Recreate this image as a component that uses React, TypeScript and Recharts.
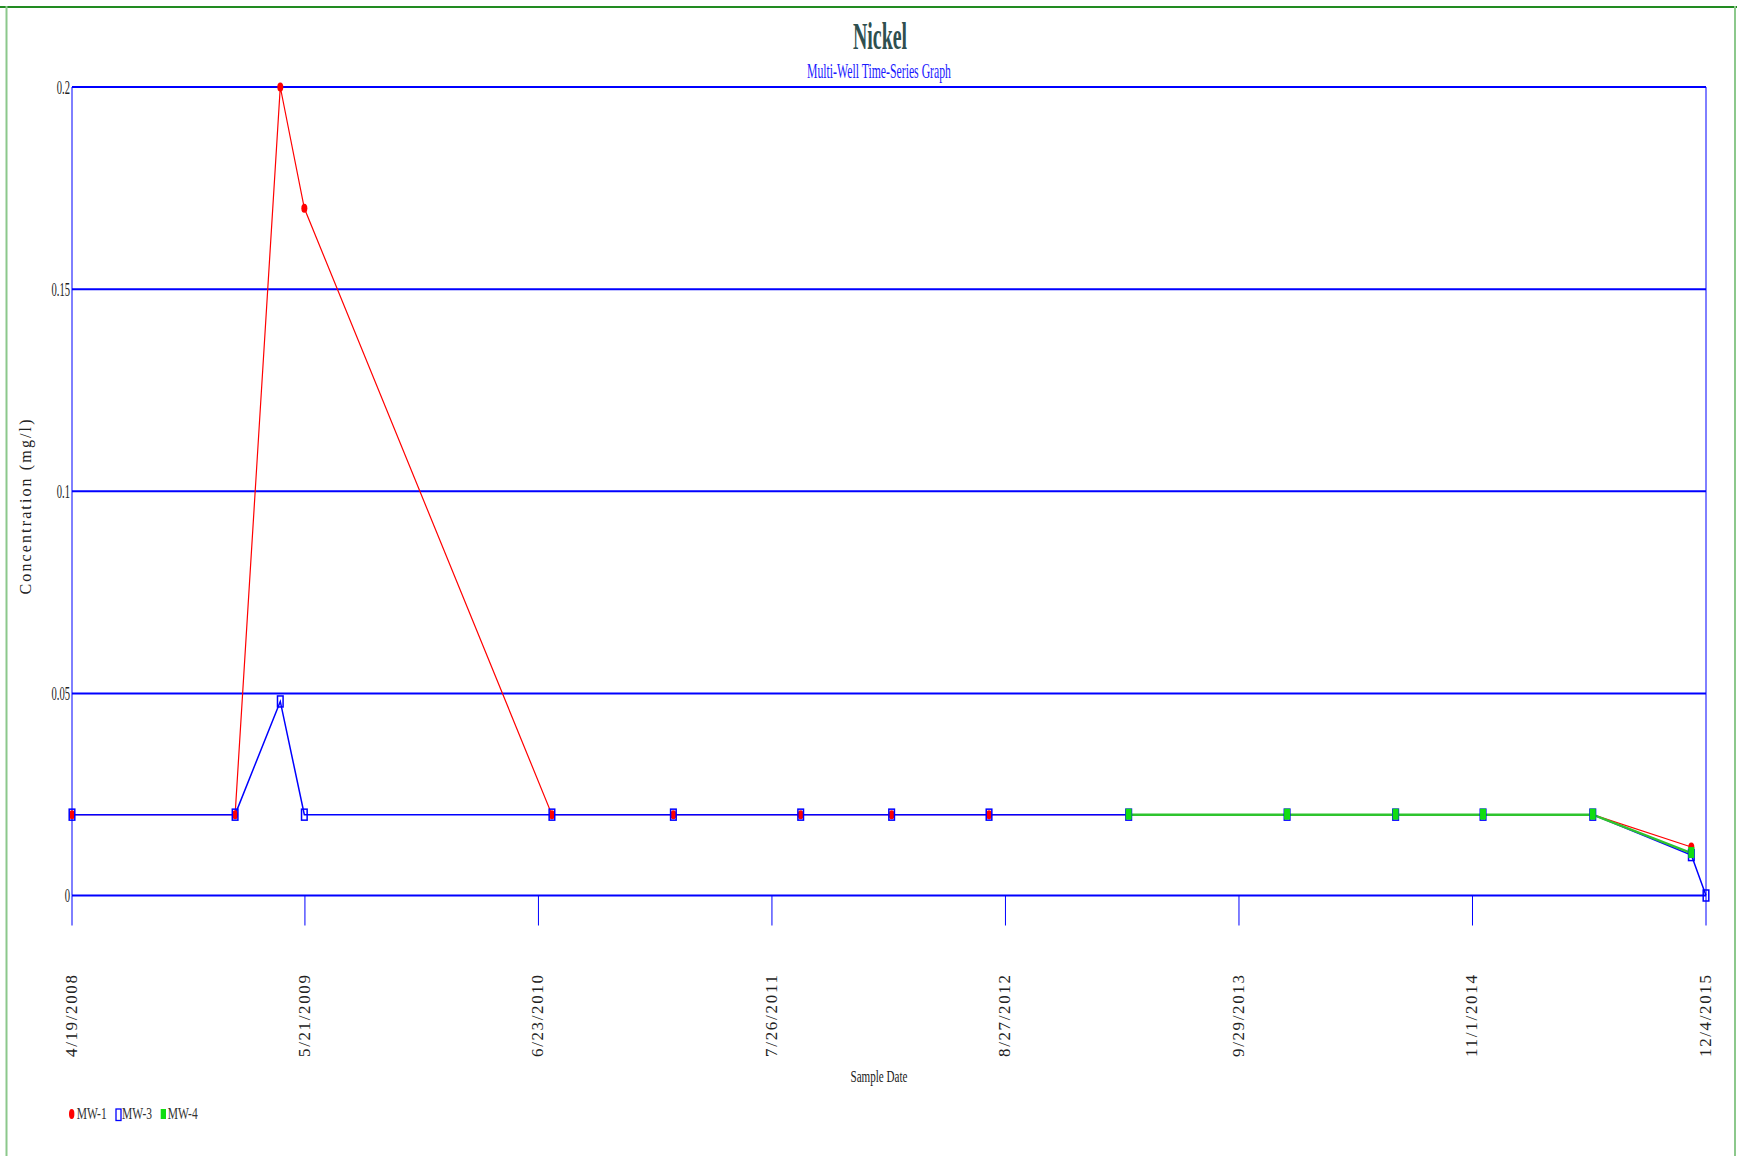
import React from 'react';
import { LineChart, Line, XAxis, YAxis, CartesianGrid, ReferenceLine } from 'recharts';

const sampleDates = [
  '2008-04-19', '2009-01-22', '2009-04-09', '2009-05-20', '2010-07-16', '2011-02-08',
  '2011-09-13', '2012-02-15', '2012-07-30', '2013-03-25', '2013-12-20', '2014-06-23',
  '2014-11-19', '2015-05-25', '2015-11-09', '2015-12-04',
];
const mw1 = [0.02, 0.02, 0.2, 0.17, 0.02, 0.02, 0.02, 0.02, 0.02, 0.02, 0.02, 0.02, 0.02, 0.02, 0.012, null];
const mw3 = [0.02, 0.02, 0.048, 0.02, 0.02, 0.02, 0.02, 0.02, 0.02, 0.02, 0.02, 0.02, 0.02, 0.02, 0.01, 0];
const mw4 = [null, null, null, null, null, null, null, null, null, 0.02, 0.02, 0.02, 0.02, 0.02, 0.0105, null];

const xTickDates = ['2008-04-19', '2009-05-21', '2010-06-23', '2011-07-26', '2012-08-27', '2013-09-29', '2014-11-01', '2015-12-04'];
const xTickLabels = ['4/19/2008', '5/21/2009', '6/23/2010', '7/26/2011', '8/27/2012', '9/29/2013', '11/1/2014', '12/4/2015'];
const yTicks = [0, 0.05, 0.1, 0.15, 0.2];
const yTickLabels = ['0', '0.05', '0.1', '0.15', '0.2'];

const seriesNames = ['MW-1', 'MW-3', 'MW-4'];
const title = 'Nickel';
const subtitle = 'Multi-Well Time-Series Graph';
const yLabel = 'Concentration (mg/l)';
const xLabel = 'Sample Date';

const toTs = (s: string) => {
  const [y, m, d] = s.split('-').map(Number);
  return Date.UTC(y, m - 1, d);
};

const data = sampleDates.map((d, i) => ({
  t: toTs(d),
  mw1: mw1[i] == null ? undefined : mw1[i],
  mw3: mw3[i] == null ? undefined : mw3[i],
  mw4: mw4[i] == null ? undefined : mw4[i],
}));

const xTicks = xTickDates.map(toTs);
const FONT = '"Liberation Serif", "Times New Roman", serif';
const BLUE = '#0000ff';
const RED = '#ff0000';
const GREEN = '#11dd11';

const W = 1737;
const H = 1156;

const XTick = (props: any) => {
  const { x, y, payload } = props;
  const idx = xTicks.indexOf(payload.value);
  const label = idx >= 0 ? xTickLabels[idx] : '';
  return (
    <g>
      <line x1={x} x2={x} y1={y} y2={y + 30} stroke={BLUE} strokeWidth={1} />
      <text
        transform={`translate(${x + 5},${975}) rotate(-90)`}
        textAnchor="end"
        fontFamily={FONT}
        fontSize={17}
        fill="#222"
        textLength={82}
        lengthAdjust="spacing"
      >
        {label}
      </text>
    </g>
  );
};

const YTick = (props: any) => {
  const { x, y, payload } = props;
  const idx = yTicks.indexOf(payload.value);
  const label = idx >= 0 ? yTickLabels[idx] : '';
  let w = 0;
  for (const c of label) w += c === '.' ? 2.6 : 5.3;
  return (
    <text
      x={70}
      y={y + 6.5}
      textAnchor="end"
      fontFamily={FONT}
      fontSize={19}
      fill="#222"
      textLength={w}
      lengthAdjust="spacingAndGlyphs"
    >
      {label}
    </text>
  );
};

const RedDot = (props: any) => {
  const { cx, cy, index } = props;
  if (cx == null || cy == null || props.value == null) return <g key={`r${index}`} />;
  return <ellipse key={`r${index}`} cx={cx} cy={cy} rx={3} ry={4.5} fill={RED} />;
};
const BlueDot = (props: any) => {
  const { cx, cy, index } = props;
  if (cx == null || cy == null || props.value == null) return <g key={`b${index}`} />;
  return <rect key={`b${index}`} x={cx - 2.8} y={cy - 5.5} width={5.6} height={11} fill="none" stroke={BLUE} strokeWidth={1.5} />;
};
const GreenDot = (props: any) => {
  const { cx, cy, index } = props;
  if (cx == null || cy == null || props.value == null) return <g key={`g${index}`} />;
  return <rect key={`g${index}`} x={cx - 3} y={cy - 6} width={6} height={11} fill={GREEN} />;
};

export default function App() {
  return (
    <div style={{ position: 'absolute', left: 0, top: 0, width: W, height: H, background: '#fff' }}>
      <LineChart
        width={W}
        height={H}
        data={data}
        margin={{ top: 87, right: 31, bottom: 230.5, left: 0 }}
      >
        <CartesianGrid horizontal vertical={false} stroke={BLUE} strokeWidth={2} />
        <XAxis
          dataKey="t"
          type="number"
          scale="linear"
          domain={[xTicks[0], xTicks[xTicks.length - 1]]}
          ticks={xTicks}
          interval={0}
          height={30}
          axisLine={false}
          tickLine={false}
          tickSize={0}
          tickMargin={0}
          tick={<XTick />}
        />
        <YAxis
          type="number"
          domain={[0, 0.2]}
          ticks={yTicks}
          interval={0}
          width={72}
          axisLine={false}
          tickLine={false}
          tickSize={0}
          tickMargin={0}
          tick={<YTick />}
        />
        <ReferenceLine x={xTicks[0]} stroke={BLUE} strokeWidth={1} />
        <ReferenceLine x={xTicks[xTicks.length - 1]} stroke={BLUE} strokeWidth={1} />
        <Line
          type="linear"
          dataKey="mw1"
          name={seriesNames[0]}
          stroke={RED}
          strokeWidth={1.2}
          connectNulls
          dot={RedDot}
          activeDot={false}
          isAnimationActive={false}
        />
        <Line
          type="linear"
          dataKey="mw3"
          name={seriesNames[1]}
          stroke={BLUE}
          strokeWidth={1.5}
          connectNulls
          dot={BlueDot}
          activeDot={false}
          isAnimationActive={false}
        />
        <Line
          type="linear"
          dataKey="mw4"
          name={seriesNames[2]}
          stroke="#2ec42e"
          strokeWidth={2.5}
          connectNulls
          dot={GreenDot}
          activeDot={false}
          isAnimationActive={false}
        />
      </LineChart>
      <svg
        width={W}
        height={H}
        style={{ position: 'absolute', left: 0, top: 0, pointerEvents: 'none' }}
      >
        <line x1={0} x2={W} y1={7} y2={7} stroke="#228b22" strokeWidth={2} />
        <line x1={6.5} x2={6.5} y1={6} y2={H} stroke="#8cc88c" strokeWidth={2} />
        <line x1={1735} x2={1735} y1={6} y2={H} stroke="#8cc88c" strokeWidth={2} />
        <text x={880} y={49} textAnchor="middle" fontFamily={FONT} fontWeight="bold" fontSize={38} fill="#2f4f4f" textLength={54} lengthAdjust="spacingAndGlyphs">
          {title}
        </text>
        <text x={879} y={78} textAnchor="middle" fontFamily={FONT} fontSize={21} fill="#1a1aff" textLength={144} lengthAdjust="spacingAndGlyphs">
          {subtitle}
        </text>
        <text
          transform="translate(31,507) rotate(-90)"
          textAnchor="middle"
          fontFamily={FONT}
          fontSize={16}
          fill="#222"
          textLength={175}
          lengthAdjust="spacing"
        >
          {yLabel}
        </text>
        <text x={879} y={1082} textAnchor="middle" fontFamily={FONT} fontSize={17} fill="#222" textLength={57} lengthAdjust="spacingAndGlyphs">
          {xLabel}
        </text>
        <g fontFamily={FONT} fontSize={17} fill="#333">
          <ellipse cx={71.7} cy={1114} rx={2.7} ry={5} fill={RED} />
          <text x={76.7} y={1119} textLength={30} lengthAdjust="spacingAndGlyphs">{seriesNames[0]}</text>
          <rect x={116} y={1109} width={5} height={11.5} fill="none" stroke={BLUE} strokeWidth={1.3} />
          <text x={122} y={1119} textLength={30} lengthAdjust="spacingAndGlyphs">{seriesNames[1]}</text>
          <rect x={160.7} y={1109} width={5.3} height={10} fill={GREEN} />
          <text x={167.7} y={1119} textLength={30} lengthAdjust="spacingAndGlyphs">{seriesNames[2]}</text>
        </g>
      </svg>
    </div>
  );
}
